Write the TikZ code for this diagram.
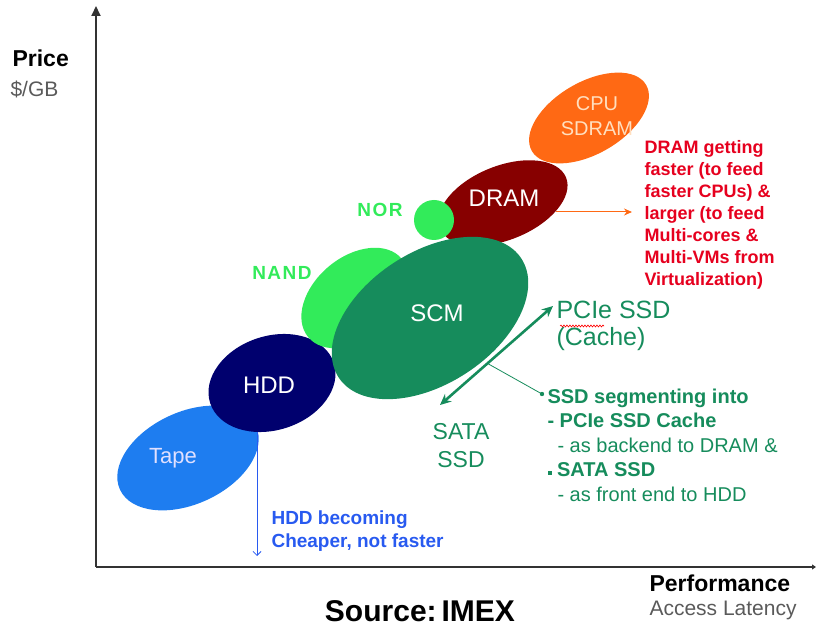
\documentclass[tikz,border=0pt]{standalone}
\usepackage{fontspec}
\setmainfont{Liberation Sans}
\usetikzlibrary{shapes.geometric,arrows.meta,decorations.pathmorphing,calc}
\definecolor{tapeblue}{RGB}{30,125,240}
\definecolor{hddnavy}{RGB}{0,0,110}
\definecolor{nandgreen}{RGB}{50,235,90}
\definecolor{scmgreen}{RGB}{22,140,92}
\definecolor{dramred}{RGB}{135,0,0}
\definecolor{cpuorange}{RGB}{255,105,20}
\definecolor{notered}{RGB}{230,0,30}
\definecolor{notegreen}{RGB}{22,140,92}
\definecolor{noteblue}{RGB}{40,90,240}
\definecolor{axisgray}{RGB}{90,90,90}
\tikzset{
  blob/.style={ellipse, inner sep=0pt, draw=none},
  intext/.style={font=\fontsize{24}{26}\selectfont, text=white, align=center},
  flashlabel/.style={font=\fontsize{19}{21}\selectfont\bfseries\addfontfeature{LetterSpace=8}, text=nandgreen},
  rednote/.style={font=\fontsize{18}{22}\selectfont\bfseries, text=notered, align=left, anchor=north west},
  greennote/.style={font=\fontsize{20}{24.5}\selectfont, text=notegreen, align=left, anchor=north west},
  axislabel/.style={font=\fontsize{23}{26}\selectfont\bfseries, anchor=north west},
  axissub/.style={font=\fontsize{21}{24}\selectfont, text=axisgray, anchor=north west},
}
\begin{document}
\begin{tikzpicture}[x=1pt,y=-1pt]
\useasboundingbox (0,0) rectangle (817,628);
% axes
\coordinate (origin) at (96,567);
\coordinate (ytop) at (96,6);
\coordinate (xend) at (816,567);
\draw[line width=1.8pt, color=black!80, -{Triangle[length=10pt,width=9pt]}] (origin) -- (ytop);
\draw[line width=1.8pt, color=black!80, -{Triangle[length=4pt,width=5pt]}] (origin) -- (xend);
\node[axislabel] (price) at (9,46) {Price};
\node[axissub] (pergb) at (7,77) {\$/GB};
\node[axislabel] (perf) at (646,571) {Performance};
\node[axissub] (lat) at (646,598) {Access Latency};
\node[font=\fontsize{30}{32}\selectfont\bfseries] (src) at (420,611) {Source:\,IMEX};
% blobs
\node[blob, fill=tapeblue, minimum width=150pt, minimum height=92pt, rotate=25] (tape) at (188,458) {};
\node[blob, fill=hddnavy, minimum width=130pt, minimum height=94pt, rotate=18] (hdd) at (272,383) {};
\node[blob, fill=nandgreen, minimum width=122pt, minimum height=82pt, rotate=40] (nand) at (355,298) {};
\node[blob, fill=cpuorange, minimum width=132pt, minimum height=72pt, rotate=30] (cpu) at (589,118) {};
\node[blob, fill=dramred, minimum width=136pt, minimum height=74pt, rotate=22] (dram) at (503,203) {};
\node[circle, fill=nandgreen, minimum size=40pt, inner sep=0pt] (nor) at (434,220) {};
\node[blob, fill=scmgreen, minimum width=218pt, minimum height=132pt, rotate=33] (scm) at (430,318) {};
% blob labels
\node[font=\fontsize{20}{25}\selectfont, text=orange!25, align=center] (cputxt) at (597,116) {CPU\\SDRAM};
\node[intext] (dramtxt) at (504,198) {DRAM};
\node[intext] (scmtxt) at (437,313) {SCM};
\node[intext] (hddtxt) at (269,385) {HDD};
\node[font=\fontsize{22}{24}\selectfont, text=blue!12] (tapetxt) at (173,458) {Tape};
\node[flashlabel] (nortxt) at (380,210) {NOR};
\node[flashlabel] (nandtxt) at (282,273) {NAND};
% DRAM note
\coordinate (dramstart) at (556,212);
\coordinate (dramarrow) at (632,212);
\draw[cpuorange, line width=1pt, -{Stealth[length=8pt,width=7pt]}] (dramstart) -- (dramarrow);
\node[rednote] (dramnote) at (641,137) {DRAM getting\\faster (to feed\\faster CPUs) \&\\larger (to feed\\Multi-cores \&\\Multi-VMs from\\Virtualization)};
% SSD part
\node[font=\fontsize{25}{27}\selectfont, text=notegreen, align=left, anchor=north west] (pcie) at (553,298) {PCIe SSD\\(Cache)};
\coordinate (sqa) at (560,326);
\coordinate (sqb) at (604,326);
\draw[red, line width=0.6pt, decorate, decoration={snake, amplitude=1pt, segment length=3pt}] (sqa) -- (sqb);
\coordinate (arrA) at (553,306);
\coordinate (arrB) at (440,405);
\draw[notegreen, line width=2.6pt, {Stealth[length=11pt,width=10pt]}-{Stealth[length=11pt,width=10pt]}] (arrB) -- (arrA);
\coordinate (branch) at ($(arrB)!0.42!(arrA)$);
\coordinate (dot) at (542,394);
\draw[notegreen, line width=0.8pt] (branch) -- (dot);
\fill[notegreen] (dot) circle (2.2pt);
\node[font=\fontsize{23}{28}\selectfont, text=notegreen, align=center] (sata) at (461,446) {SATA\\SSD};
\node[greennote] (ssdnote) at (544,385) {\textbf{SSD segmenting into}\\\textbf{- PCIe SSD Cache}\\\hspace*{10pt}- as backend to DRAM \&\\\textbf{\raisebox{2pt}{\rule{4pt}{4pt}} SATA SSD}\\\hspace*{10pt}- as front end to HDD};
% HDD note
\coordinate (hddfoot) at (257,432);
\coordinate (hddarrow) at (257,556);
\draw[noteblue, line width=0.8pt, -{Straight Barb[length=4pt,width=8pt]}] (hddfoot) -- (hddarrow);
\node[font=\fontsize{19}{23}\selectfont\bfseries, text=noteblue, align=left, anchor=north west] (hddnote) at (268,507) {HDD becoming\\Cheaper, not faster};
\end{tikzpicture}
\end{document}
